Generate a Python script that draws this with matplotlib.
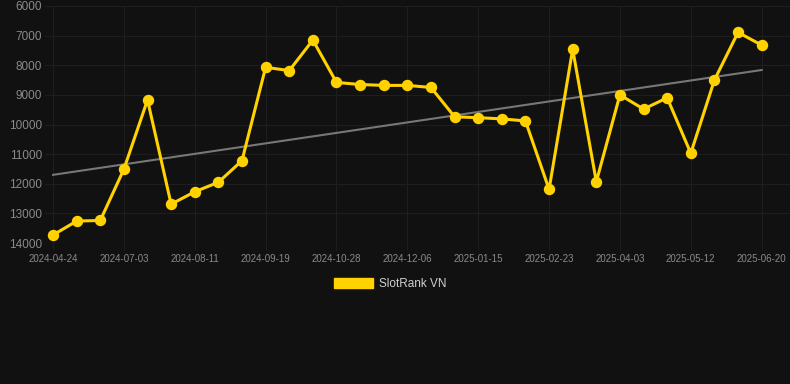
import numpy as np
import matplotlib
matplotlib.use("Agg")
import matplotlib.pyplot as plt
from matplotlib.patches import Patch

plt.rcParams['font.family'] = ['Liberation Sans', 'DejaVu Sans']

dates = ['2024-04-24', '2024-05-17', '2024-06-09', '2024-07-03', '2024-07-16',
         '2024-07-29', '2024-08-11', '2024-08-24', '2024-09-06', '2024-09-19',
         '2024-10-02', '2024-10-15', '2024-10-28', '2024-11-10', '2024-11-23',
         '2024-12-06', '2024-12-19', '2025-01-02', '2025-01-15', '2025-01-28',
         '2025-02-10', '2025-02-23', '2025-03-08', '2025-03-21', '2025-04-03',
         '2025-04-16', '2025-04-29', '2025-05-12', '2025-05-25', '2025-06-07',
         '2025-06-20']
rank = [13730, 13260, 13240, 11510, 9170, 12690, 12270, 11950, 11220, 8070,
        8180, 7150, 8580, 8650, 8680, 8680, 8750, 9740, 9770, 9810,
        9880, 12190, 7460, 11930, 9000, 9480, 9100, 10970, 8500, 6890,
        7320]
series_name = 'SlotRank VN'

bg = '#111111'
gold = '#FFD200'
grid_c = '#1e1e1e'

fig = plt.figure(figsize=(7.9, 3.84), dpi=100, facecolor=bg)
ax = fig.add_axes([45 / 790, 1 - 243 / 384, 745 / 790, 237 / 384])
ax.set_facecolor(bg)

x = np.arange(len(rank))
ax.plot(x, rank, color=gold, lw=2.2, marker='o', ms=7.2, zorder=3)

# trend line (least squares)
k, b = np.polyfit(x, rank, 1)
ax.plot([x[0], x[-1]], [k * x[0] + b, k * x[-1] + b], color='#777777', lw=1.5, zorder=2)

ax.set_ylim(14000, 6000)
ax.set_yticks(np.arange(6000, 14001, 1000))
ax.set_xlim(-0.34, 31.2)
ax.set_xticks(x[::3])
ax.set_xticklabels(dates[::3])

ax.grid(True, color=grid_c, lw=0.8)
for s in ax.spines.values():
    s.set_visible(False)
ax.tick_params(axis='y', length=0, pad=2, labelsize=8.5, labelcolor='#8a8a8a')
ax.tick_params(axis='x', length=5, color=grid_c, pad=3, labelsize=7, labelcolor='#8a8a8a')

fig.legend(handles=[Patch(facecolor=gold, edgecolor=gold, label=series_name)],
           loc='center', bbox_to_anchor=(390 / 790, 1 - 284 / 384), frameon=False,
           fontsize=8.5, labelcolor='#d0d0d0', handlelength=3.3, handleheight=1.0,
           handletextpad=0.5)

fig.savefig('out.png', dpi=100, facecolor=bg)
